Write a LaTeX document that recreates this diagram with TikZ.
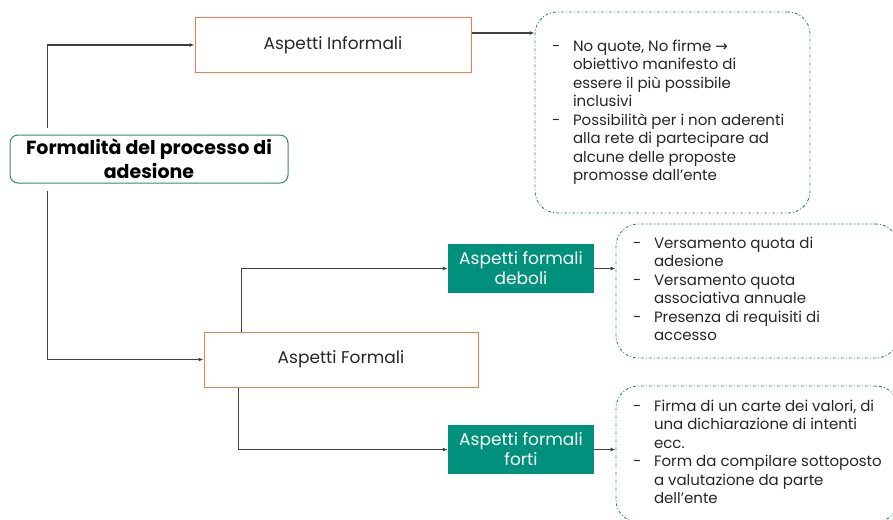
\documentclass[tikz,border=0pt]{standalone}
\usepackage{fontspec}
\setmainfont{Poppins}
\newfontfamily\simboli{DejaVu Sans}
\usetikzlibrary{positioning}
\usetikzlibrary{arrows.meta}
\definecolor{verde}{HTML}{00917C}
\definecolor{bordoverde}{HTML}{2F8A72}
\definecolor{arancio}{HTML}{F47A4C}
\definecolor{testo}{HTML}{262626}
\definecolor{linea}{HTML}{404040}
\tikzstyle{radice}=[rectangle, draw=bordoverde, rounded corners=8pt, line width=1pt,
                    minimum width=278pt, minimum height=48pt, align=center,
                    font=\fontsize{19}{24}\selectfont\bfseries]
\tikzstyle{aspetto}=[rectangle, draw=arancio, line width=1pt, text=testo,
                     minimum height=55pt, font=\fontsize{17}{20}\selectfont]
\tikzstyle{livello}=[rectangle, fill=verde, text=white, align=center,
                     minimum width=146pt, minimum height=49pt,
                     font=\fontsize{17}{20}\selectfont]
\tikzstyle{nota}=[rectangle, draw=bordoverde, line width=0.9pt,
                  dash pattern=on 3pt off 2pt on 1pt off 2pt,
                  rounded corners=22pt, text=testo,
                  font=\fontsize{15}{18.5}\selectfont]
\tikzstyle{freccia}=[draw=linea, line width=1.2pt, -{Latex[length=5pt,width=4pt]}]
\newcommand{\elenco}[2]{\makebox[#1][l]{\begin{tabular}{@{}p{21pt}@{}l@{}}#2\end{tabular}}}

\begin{document}
\begin{tikzpicture}[x=1pt, y=-1pt]
  \useasboundingbox (0,0) rectangle (893,519);

  % blocchi principali
  \node [radice] (radice) at (149,159) {Formalità del processo di\\adesione};
  \node [aspetto, minimum width=276pt] (informali) at (333,45) {Aspetti Informali};
  \node [aspetto, minimum width=274pt] (formali) at (341,359.5) {Aspetti Formali};
  \node [livello] (deboli) at (521,268.5) {Aspetti formali\\deboli};
  \node [livello] (forti) at (521,449.5) {Aspetti formali\\forti};

  % note
  \node [nota, minimum width=275pt, minimum height=201pt] (nota1) at (672.5,112.5)
    {\elenco{241pt}{- & No quote, No firme {\simboli →}\\
                      & obiettivo manifesto di\\
                      & essere il più possibile\\
                      & inclusivi\\
                    - & Possibilità per i non aderenti\\
                      & alla rete di partecipare ad\\
                      & alcune delle proposte\\
                      & promosse dall’ente}};
  \node [nota, minimum width=282pt, minimum height=134pt] (nota2) at (757,291)
    {\elenco{248pt}{- & Versamento quota di\\
                      & adesione\\
                    - & Versamento quota\\
                      & associativa annuale\\
                    - & Presenza di requisiti di\\
                      & accesso}};
  \node [nota, minimum width=282pt, minimum height=136pt] (nota3) at (757,454)
    {\elenco{248pt}{- & Firma di un carte dei valori, di\\
                      & una dichiarazione di intenti\\
                      & ecc.\\
                    - & Form da compilare sottoposto\\
                      & a valutazione da parte\\
                      & dell’ente}};

  % connettori
  \draw [freccia] ([xshift=38pt, yshift=7pt]radice.north west) |- (informali.west);
  \draw [freccia] ([xshift=38pt, yshift=-7pt]radice.south west) |- (formali.west);
  \draw [freccia] ([xshift=38pt]formali.north west) |- (deboli.west);
  \draw [freccia] ([xshift=35pt]formali.south west) |- (forti.west);
  \draw [freccia] ([yshift=12pt]informali.east) -- ([yshift=12pt]informali.east -| nota1.west);
  \draw [freccia] (deboli.east) -- (deboli.east -| nota2.west);
  \draw [freccia] (forti.east) -- (forti.east -| nota3.west);
\end{tikzpicture}
\end{document}
